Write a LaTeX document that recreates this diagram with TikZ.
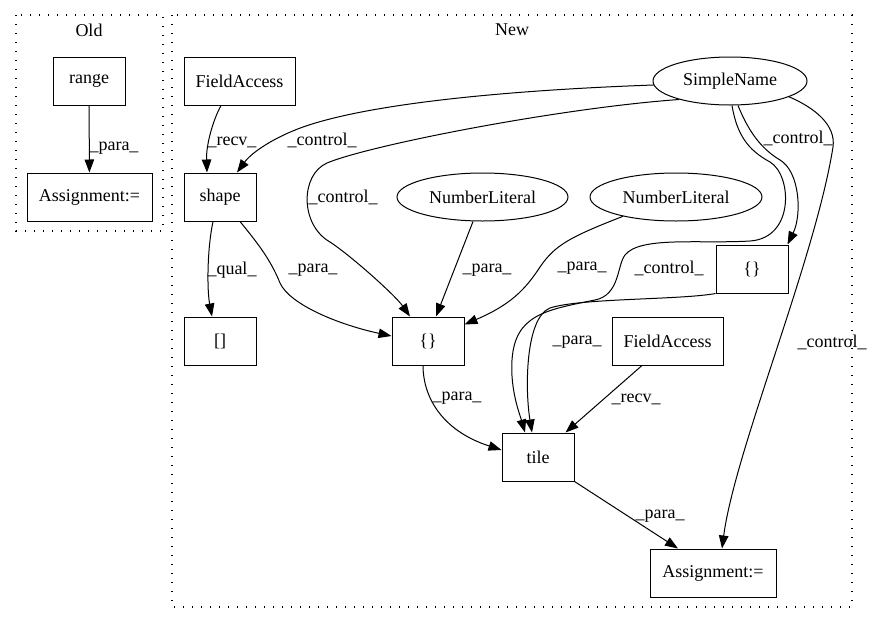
\documentclass[tikz,border=0pt]{standalone}
\usepackage{fontspec}
\setmainfont{Liberation Serif}
\usetikzlibrary{arrows.meta,shapes.geometric}
\begin{document}
\begin{tikzpicture}[x=1pt,y=-1pt,
  box/.style={draw, rectangle, line width=1pt, minimum height=48pt, inner sep=0pt, font=\fontsize{18}{21}\selectfont},
  ell/.style={draw, ellipse, line width=1pt, minimum height=48pt, inner sep=0pt, font=\fontsize{18}{21}\selectfont},
  edge/.style={-{Triangle[length=13pt,width=9.5pt]}, line width=1pt},
  lab/.style={font=\fontsize{18}{21}\selectfont, inner sep=0pt},
  cluster/.style={draw, dash pattern=on 1.4pt off 7.6pt, line width=1.2pt},
  title/.style={font=\fontsize{18}{21}\selectfont, inner sep=0pt}]
\useasboundingbox (0,0) rectangle (872,624);
% clusters
\draw[cluster] (16,15) rectangle (163,231);
\node[title] (tOld) at (89,30) {Old};
\draw[cluster] (172,15) rectangle (852,607);
\node[title] (tNew) at (512,30) {New};
% nodes
\node[box, minimum width=72pt] (range) at (89,81) {range};
\node[box, minimum width=125pt] (oa) at (89.5,197) {Assignment:=};
\node[box, minimum width=111pt] (fa1) at (239.5,81) {FieldAccess};
\node[box, minimum width=72pt] (shape) at (220,197) {shape};
\node[box, minimum width=72pt] (br) at (220,341) {[]};
\node[box, minimum width=72pt] (cm) at (428,341) {\{\}};
\node[ell, minimum width=171pt] (nl1) at (482.5,197) {NumberLiteral};
\node[ell, minimum width=172pt] (nl2) at (676,197) {NumberLiteral};
\node[ell, minimum width=154pt] (sn) at (730,81) {SimpleName};
\node[box, minimum width=72pt] (cr) at (752,269) {\{\}};
\node[box, minimum width=111pt] (fa2) at (667.5,341) {FieldAccess};
\node[box, minimum width=72pt] (tile) at (538,457) {tile};
\node[box, minimum width=126pt] (na) at (713,573) {Assignment:=};
% edges
\draw[edge] (range) -- (oa) node[lab] (l1) at (114,148) {\_para\_};
\draw[edge] ([xshift=-18.5pt]fa1.south) .. controls (213,120) and (206,145) .. ([xshift=-13pt]shape.north)
  node[lab] (l2) at (232,142) {\_recv\_};
\draw[edge] (sn.183) .. controls (540,89) and (380,100) .. (303,127)
  .. controls (275,137) and (252,152) .. ([xshift=17pt]shape.north)
  node[lab] (l3) at (322,140) {\_control\_};
\draw[edge] (sn.200) .. controls (560,108) and (370,145) .. (327,163)
  .. controls (300,175) and (300,225) .. (330,242)
  .. controls (350,255) and (395,295) .. ([xshift=-18pt]cm.north)
  node[lab] (l4) at (343,197) {\_control\_};
\draw[edge] ([xshift=-9.5pt]nl1.south) -- ([xshift=8pt]cm.north)
  node[lab] (l5) at (487,270) {\_para\_};
\draw[edge] (nl2.200) .. controls (570,237) and (555,245) .. (540,267)
  .. controls (525,290) and (510,305) .. ([yshift=-8pt]cm.north east)
  node[lab] (l6) at (582,268) {\_para\_};
\draw[edge] ([xshift=20pt]shape.south) .. controls (255,240) and (270,258) .. (280,283)
  .. controls (290,305) and (340,325) .. ([yshift=5pt]cm.west)
  node[lab] (l7) at (313,270) {\_para\_};
\draw[edge] ([xshift=-7pt]shape.south) .. controls (207,250) and (207,290) .. ([xshift=-8pt]br.north)
  node[lab] (l8) at (232,270) {\_qual\_};
\draw[edge] ([xshift=2pt]sn.south) .. controls (737,135) and (748,150) .. (770,162)
  .. controls (792,175) and (795,238) .. (750,241)
  .. controls (700,244) and (640,236) .. (625,255)
  .. controls (617,265) and (620,295) .. (595,300)
  .. controls (545,310) and (515,315) .. (512,360)
  .. controls (510,390) and (520,415) .. ([xshift=-13pt]tile.north)
  node[lab] (l9) at (669,268) {\_control\_};
\draw[edge] ([xshift=8pt]sn.south) .. controls (748,130) and (760,148) .. (780,160)
  .. controls (800,172) and (802,215) .. ([xshift=-1pt]cr.north east)
  node[lab] (l10) at (798,138) {\_control\_};
\draw[edge] (sn.345) .. controls (815,108) and (836,125) .. (833,147)
  .. controls (815,260) and (735,450) .. ([xshift=9pt]na.north)
  node[lab] (l11) at (832,342) {\_control\_};
\draw[edge] ([xshift=-5pt]cm.south) .. controls (423,395) and (440,430) .. ([yshift=7pt]tile.west)
  node[lab] (l12) at (457,398) {\_para\_};
\draw[edge] (cr.south west) .. controls (680,300) and (580,298) .. (550,308)
  .. controls (525,318) and (525,390) .. ([xshift=-6pt]tile.north)
  node[lab] (l13) at (577,342) {\_para\_};
\draw[edge] ([xshift=-25.5pt]fa2.south) -- ([xshift=-9pt]tile.north east)
  node[lab] (l14) at (636,399) {\_recv\_};
\draw[edge] (tile.south east) -- ([xshift=-35pt]na.north)
  node[lab] (l15) at (660,516) {\_para\_};
\end{tikzpicture}
\end{document}
